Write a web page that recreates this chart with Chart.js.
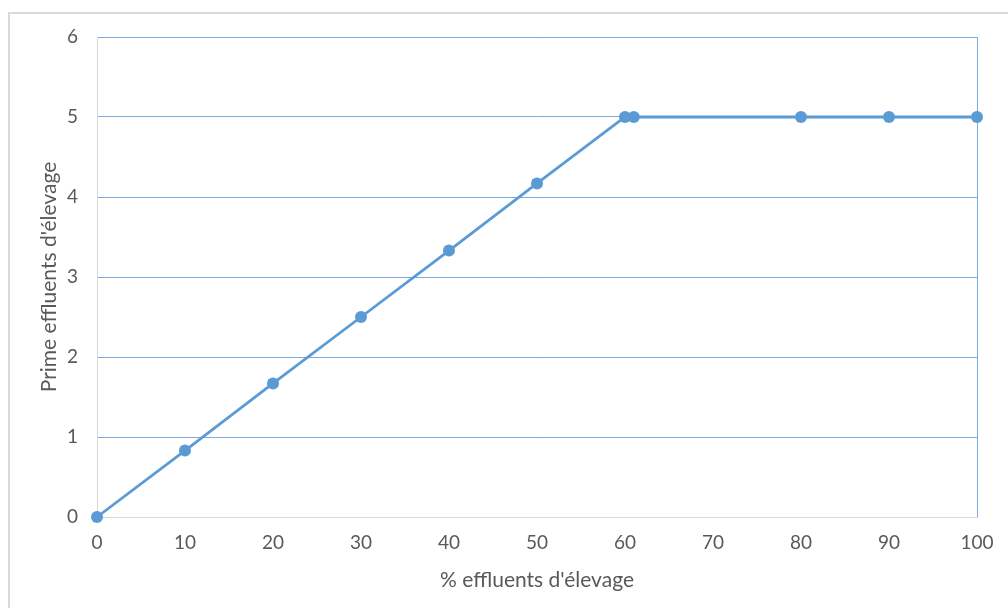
<!DOCTYPE html>
<html>
<head>
<meta charset="utf-8">
<script src="https://cdn.jsdelivr.net/npm/chart.js@4.4.1/dist/chart.umd.min.js"></script>
<style>
  html, body { margin: 0; padding: 0; background: #fff; overflow: hidden; }
  #wrap { position: relative; width: 1008px; height: 608px; }
  #cadre { position: absolute; left: 8px; top: 12px; width: 1100px; height: 700px; border: 2px solid #d9d9d9; }
  canvas { position: absolute; left: 0; top: 0; }
</style>
</head>
<body>
<div id="wrap">
  <div id="cadre"></div>
  <canvas id="graph_prime" width="1008" height="608"></canvas>
</div>
<script>
// % effluents d'élevage
var pourcentages = [0, 10, 20, 30, 40, 50, 60, 61, 80, 90, 100];
// prime effluents d'élevage
var primes = [0, 0.83, 1.67, 2.5, 3.33, 4.17, 5, 5, 5, 5, 5];
var ticks_x = [0, 10, 20, 30, 40, 50, 60, 70, 80, 90, 100];
var ticks_y = [0, 1, 2, 3, 4, 5, 6];

var gris = '#d9d9d9';
var bleu_grille = '#7aaade';
var bleu_serie = '#5b9bd5';
var texte = '#595959';
var police = "Lato, 'Open Sans', sans-serif";

function graphique() {
    var points = pourcentages.map(function (x, i) { return { x: x, y: primes[i] }; });
    var getElemChart = document.getElementById('graph_prime').getContext('2d');
    var monGraphique = new Chart(getElemChart, {
        type: 'scatter',
        data: {
            datasets: [{
                data: points,
                showLine: true,
                clip: false,
                borderColor: bleu_serie,
                backgroundColor: bleu_serie,
                borderWidth: 2.8,
                pointRadius: 6,
                pointHoverRadius: 6,
                pointBorderWidth: 0
            }]
        },
        options: {
            responsive: false,
            animation: false,
            devicePixelRatio: 1,
            layout: { padding: { top: 37, right: 31, left: 0, bottom: 0 } },
            plugins: { legend: { display: false }, tooltip: { enabled: false } },
            scales: {
                x: {
                    type: 'linear',
                    min: 0, max: 100,
                    afterBuildTicks: function (axe) { axe.ticks = ticks_x.map(function (v) { return { value: v }; }); },
                    afterFit: function (axe) { axe.height = 91; },
                    grid: {
                        drawTicks: false,
                        lineWidth: 1,
                        color: function (c) { return c.tick && c.tick.value === 100 ? bleu_grille : 'rgba(255,255,255,0)'; }
                    },
                    border: { color: gris, width: 1 },
                    ticks: { color: texte, padding: 14, font: { family: police, size: 19 }, maxRotation: 0 },
                    title: {
                        display: true, text: "% effluents d'élevage", color: texte,
                        font: { family: police, size: 21 }, padding: { top: 0, bottom: 15 }
                    }
                },
                y: {
                    type: 'linear',
                    min: 0, max: 6,
                    afterBuildTicks: function (axe) { axe.ticks = ticks_y.map(function (v) { return { value: v }; }); },
                    afterFit: function (axe) { axe.width = 97; },
                    grid: {
                        drawTicks: false,
                        lineWidth: 1,
                        color: function (c) { return c.tick && c.tick.value === 0 ? gris : bleu_grille; }
                    },
                    border: { color: gris, width: 1 },
                    ticks: { color: texte, padding: 19, font: { family: police, size: 19 } },
                    title: {
                        display: true, text: "Prime effluents d'élevage", color: texte,
                        font: { family: police, size: 21 }, padding: { top: 37, bottom: 0 }
                    }
                }
            }
        }
    });
}

graphique();
</script>
</body>
</html>
